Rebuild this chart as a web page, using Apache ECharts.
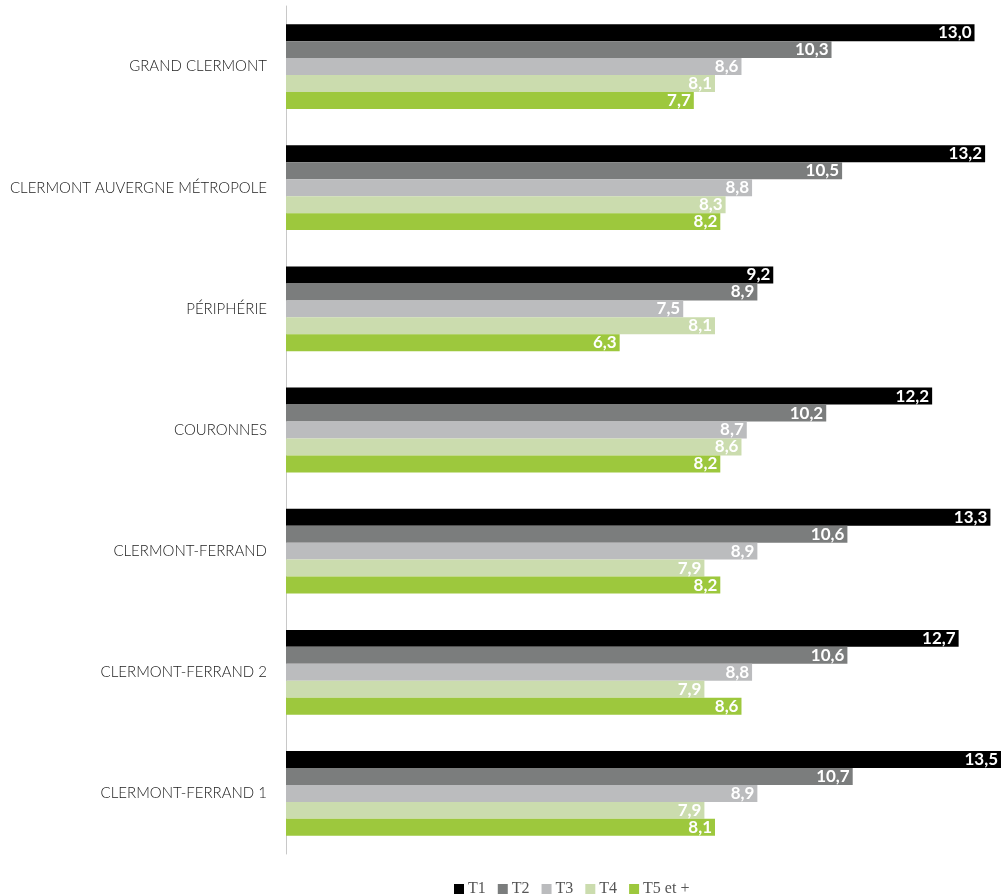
<!DOCTYPE html>
<html>
<head>
<meta charset="utf-8">
<script src="https://cdn.jsdelivr.net/npm/echarts@6/dist/echarts.min.js"></script>
<style>
  html, body { margin: 0; padding: 0; background: #ffffff; }
  #chart { width: 1004px; height: 896px; }
</style>
</head>
<body>
<div id="chart"></div>
<script>
// Territories, listed top to bottom
const categories = [
  'GRAND CLERMONT',
  'CLERMONT AUVERGNE MÉTROPOLE',
  'PÉRIPHÉRIE',
  'COURONNES',
  'CLERMONT-FERRAND',
  'CLERMONT-FERRAND 2',
  'CLERMONT-FERRAND 1'
];

// Values per dwelling size
const seriesNames = ['T1', 'T2', 'T3', 'T4', 'T5 et +'];
const t1 = [13.0, 13.2, 9.2, 12.2, 13.3, 12.7, 13.5];
const t2 = [10.3, 10.5, 8.9, 10.2, 10.6, 10.6, 10.7];
const t3 = [8.6, 8.8, 7.5, 8.7, 8.9, 8.8, 8.9];
const t4 = [8.1, 8.3, 8.1, 8.6, 7.9, 7.9, 7.9];
const t5 = [7.7, 8.2, 6.3, 8.2, 8.2, 8.6, 8.1];

const colors = ['#000000', '#7b7d7d', '#bbbcbe', '#cbdcae', '#9dc83d'];
const values = [t1, t2, t3, t4, t5];

const chart = echarts.init(document.getElementById('chart'));

chart.setOption({
  animation: false,
  color: colors,
  grid: { left: 286, top: 6, width: 715, height: 848, containLabel: false },
  legend: {
    data: seriesNames,
    left: 449,
    top: 876,
    itemWidth: 10,
    itemHeight: 10,
    itemGap: 12,
    icon: 'rect',
    textStyle: { fontFamily: 'Liberation Serif', fontSize: 16, color: '#555555', padding: [0, 0, 0, -1] }
  },
  xAxis: {
    type: 'value',
    min: 0,
    max: 13.5,
    show: false
  },
  yAxis: {
    type: 'category',
    data: categories,
    inverse: true,
    axisLine: { show: true, lineStyle: { color: '#c8c8c8', width: 1 } },
    axisTick: { show: false },
    axisLabel: {
      margin: 19,
      fontFamily: 'Lato',
      fontWeight: 300,
      fontSize: 15,
      color: '#222222'
    }
  },
  series: values.map((v, i) => ({
    name: seriesNames[i],
    type: 'bar',
    data: v,
    barGap: '0%',
    barCategoryGap: '30%',
    itemStyle: { color: colors[i] },
    label: {
      show: true,
      position: 'insideRight',
      distance: 3,
      color: '#ffffff',
      fontFamily: 'Lato',
      fontWeight: 'bold',
      fontSize: 17,
      formatter: p => p.value.toFixed(1).replace('.', ',')
    }
  }))
});
</script>
</body>
</html>
